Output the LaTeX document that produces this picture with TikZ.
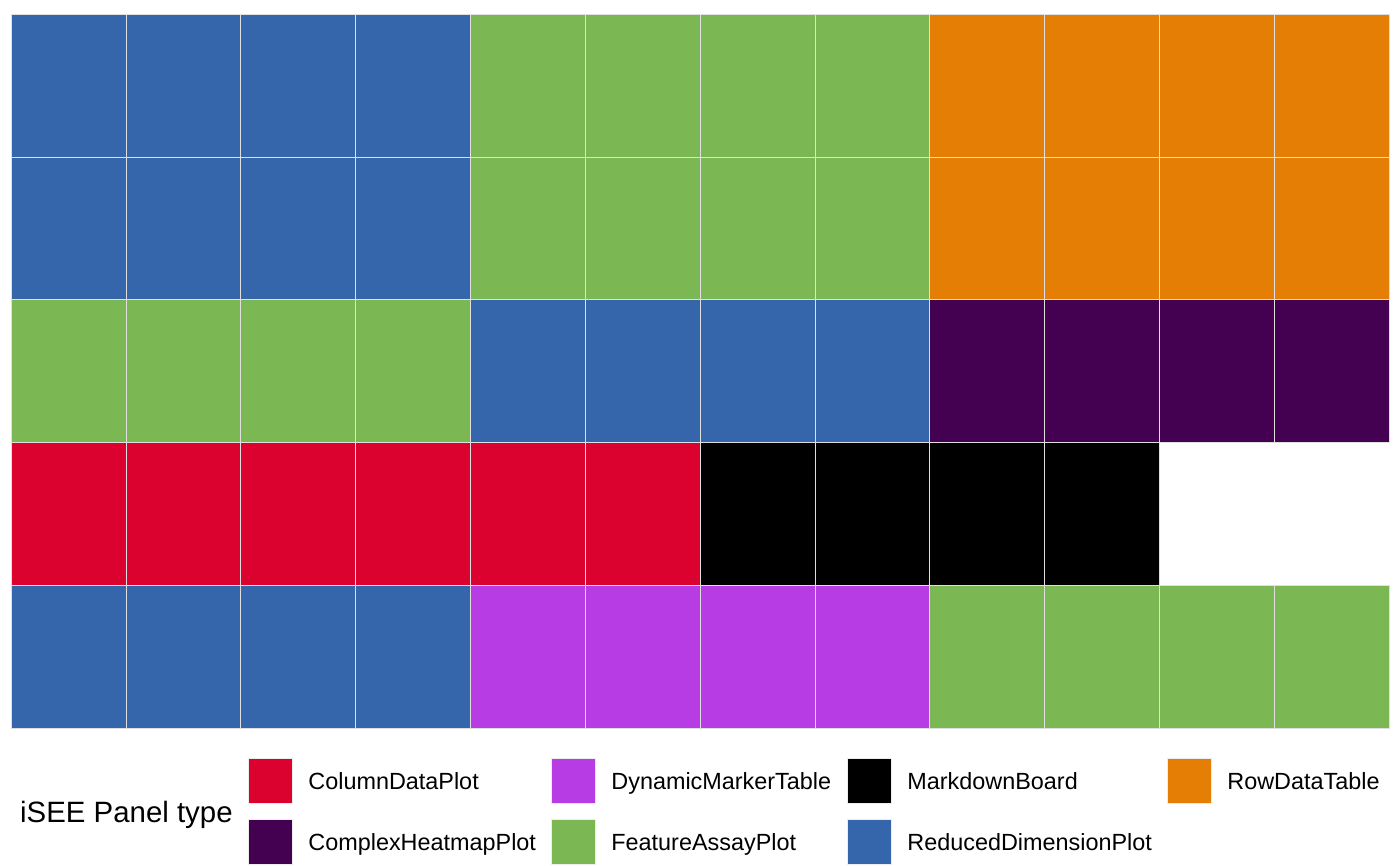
\documentclass[tikz,border=0pt]{standalone}
\usepackage{fontspec}
\setmainfont{Liberation Sans}
\definecolor{cdp}{HTML}{DB0230}
\definecolor{chp}{HTML}{440151}
\definecolor{dmt}{HTML}{B73CE4}
\definecolor{fap}{HTML}{7BB854}
\definecolor{mdb}{HTML}{000000}
\definecolor{rdp}{HTML}{3565AA}
\definecolor{rdt}{HTML}{E47E04}
\usetikzlibrary{positioning}

\begin{document}
\begin{tikzpicture}[x=1pt, y=-1pt,
  tile/.style={draw=white!75!gray, line width=0.6pt},
  key/.style={minimum width=44pt, minimum height=45pt, inner sep=0pt, draw=white!85!gray, line width=0.4pt},
  keylab/.style={right=16pt of #1, inner sep=0pt, text height=17.5pt, text depth=0pt,
    font=\fontsize{23.4}{25}\selectfont}]
  \useasboundingbox (0,0) rectangle (1400,865);
  \def\cw{114.83}
  \def\ch{142.8}
  % tiles, one row at a time
  \foreach \r/\cols in {0/{rdp,rdp,rdp,rdp,fap,fap,fap,fap,rdt,rdt,rdt,rdt},
                        1/{rdp,rdp,rdp,rdp,fap,fap,fap,fap,rdt,rdt,rdt,rdt},
                        2/{fap,fap,fap,fap,rdp,rdp,rdp,rdp,chp,chp,chp,chp},
                        3/{cdp,cdp,cdp,cdp,cdp,cdp,mdb,mdb,mdb,mdb},
                        4/{rdp,rdp,rdp,rdp,dmt,dmt,dmt,dmt,fap,fap,fap,fap}} {
    \foreach \c [count=\i from 0] in \cols {
      \fill[\c] ({11+\i*\cw},{14+\r*\ch}) rectangle ++(\cw,\ch);
      \draw[tile] ({11+\i*\cw},{14+\r*\ch}) rectangle ++(\cw,\ch);
    }
  }

  % legend
  \node[anchor=base west, inner sep=0pt, font=\fontsize{29.4}{31}\selectfont] (title) at (20,822) {iSEE Panel type};
  \node[key, fill=cdp] (k1) at (270,780.5) {};
  \node[key, fill=chp] (k2) at (270,842) {};
  \node[key, fill=dmt] (k3) at (573,780.5) {};
  \node[key, fill=fap] (k4) at (573,842) {};
  \node[key, fill=mdb] (k5) at (869,780.5) {};
  \node[key, fill=rdp] (k6) at (869,842) {};
  \node[key, fill=rdt] (k7) at (1189,780.5) {};
  \node[keylab=k1] (l1) {ColumnDataPlot};
  \node[keylab=k2] (l2) {ComplexHeatmapPlot};
  \node[keylab=k3] (l3) {DynamicMarkerTable};
  \node[keylab=k4] (l4) {FeatureAssayPlot};
  \node[keylab=k5] (l5) {MarkdownBoard};
  \node[keylab=k6] (l6) {ReducedDimensionPlot};
  \node[keylab=k7] (l7) {RowDataTable};
\end{tikzpicture}
\end{document}
